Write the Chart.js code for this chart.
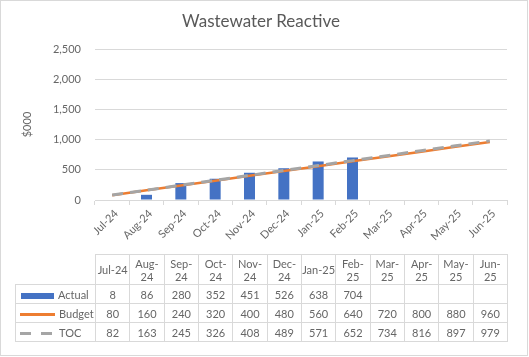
<!DOCTYPE html>
<html>
<head>
<meta charset="utf-8">
<script src="https://cdn.jsdelivr.net/npm/chart.js@4"></script>
<style>
  html, body { margin: 0; padding: 0; background: #fff; }
  #wrap { position: relative; width: 529px; height: 357px; overflow: hidden; }
  #frame { position: absolute; left: 0; top: 0; width: 528px; height: 356px; box-sizing: border-box; border: 1px solid #d9d9d9; pointer-events: none; }
  canvas { position: absolute; left: 0; top: 0; }
  #title { position: absolute; left: 0; width: 522px; top: 11px; text-align: center;
           font-family: Lato, "Open Sans", sans-serif; font-size: 17px; color: #595959; line-height: 20px; }
  #tbl { position: absolute; left: 15px; top: 254px; border-collapse: collapse; table-layout: fixed;
         font-family: Lato, "Open Sans", sans-serif; font-size: 11px; color: #666; }
  #tbl td { border: 1px solid #d9d9d9; padding: 0; text-align: center; height: 18px; line-height: 13px; white-space: nowrap; }
  #tbl tr.hdr td { height: 29px; white-space: normal; }
  #tbl td.corner { border-top: none; border-left: none; }
  #tbl td.lab { text-align: left; }
  .sym { display: inline-block; vertical-align: middle; margin: 0 4px 0 4px; }
</style>
</head>
<body>
<div id="wrap">
  <canvas id="c" width="529" height="357"></canvas>
  <div id="title">Wastewater Reactive</div>
  <table id="tbl"></table>
  <div id="frame"></div>
</div>
<script>
const categories = ['Jul-24','Aug-24','Sep-24','Oct-24','Nov-24','Dec-24','Jan-25','Feb-25','Mar-25','Apr-25','May-25','Jun-25'];
const actual = [8, 86, 280, 352, 451, 526, 638, 704];
const budget = [80, 160, 240, 320, 400, 480, 560, 640, 720, 800, 880, 960];
const toc = [82, 163, 245, 326, 408, 489, 571, 652, 734, 816, 897, 979];
const wrappedHeaders = ['Aug-24','Sep-24','Nov-24','Dec-24','Feb-25','Mar-25','May-25'];

const FONT = 'Lato, "Open Sans", sans-serif';
const GREY = '#666666';
const GRID = '#d9d9d9';

const chart = new Chart(document.getElementById('c'), {
  type: 'bar',
  data: {
    labels: categories,
    datasets: [
      { type: 'line', label: 'TOC', data: toc, borderColor: '#A5A5A5', borderWidth: 3, borderDash: [11, 7],
        pointRadius: 0, tension: 0, fill: false, order: 0, borderCapStyle: 'butt' },
      { type: 'line', label: 'Budget', data: budget, borderColor: '#ED7D31', borderWidth: 2.5,
        pointRadius: 0, tension: 0, fill: false, order: 1 },
      { type: 'bar', label: 'Actual', data: actual, backgroundColor: '#4472C4', borderWidth: 0,
        barPercentage: 0.32, categoryPercentage: 1, order: 2 }
    ]
  },
  options: {
    responsive: false,
    animation: false,
    layout: { padding: { left: 0, right: 22, top: 49, bottom: 107 } },
    plugins: {
      legend: { display: false },
      tooltip: { enabled: false },
      title: { display: false }
    },
    scales: {
      x: {
        offset: true,
        grid: { display: true, drawOnChartArea: false, drawTicks: true, tickLength: 5, color: GRID, offset: true },
        border: { display: true, color: GRID },
        ticks: { color: GREY, font: { family: FONT, size: 11 }, minRotation: 45, maxRotation: 45, padding: 2, labelOffset: 4, autoSkip: false },
        afterFit: (s) => { s.height = 50; }
      },
      y: {
        min: 0, max: 2500,
        grid: { color: GRID, drawTicks: false },
        border: { display: false },
        ticks: { stepSize: 500, color: GREY, font: { family: FONT, size: 11 }, padding: 14 },
        title: { display: true, text: '$000', color: GREY, font: { family: FONT, size: 11 }, padding: { top: 21 } },
        afterFit: (s) => { s.width = 95; }
      }
    }
  }
});

// Build the data table aligned to the chart's category scale
function buildTable() {
  const xs = chart.scales.x;
  const colW = (xs.right - xs.left) / categories.length;
  const firstW = xs.left - 15;
  const tbl = document.getElementById('tbl');
  let html = '<colgroup><col style="width:' + firstW + 'px">';
  categories.forEach(() => { html += '<col style="width:' + colW + 'px">'; });
  html += '</colgroup>';
  html += '<tr class="hdr"><td class="corner"></td>';
  categories.forEach(c => {
    const txt = wrappedHeaders.includes(c) ? c.replace('-', '-<br>') : c;
    html += '<td>' + txt + '</td>';
  });
  html += '</tr>';
  const rows = [
    { name: 'Actual', vals: actual, sym: '<span class="sym" style="width:33px;height:6px;background:#4472C4;margin-left:5px"></span>' },
    { name: 'Budget', vals: budget, sym: '<span class="sym" style="width:35px;height:3px;background:#ED7D31"></span>' },
    { name: 'TOC', vals: toc, sym: '<span class="sym" style="width:32px;height:3px;background:linear-gradient(to right,#A5A5A5 0 11px,transparent 11px 21px,#A5A5A5 21px 32px);margin-right:7px"></span>' }
  ];
  rows.forEach(r => {
    html += '<tr><td class="lab">' + r.sym + r.name + '</td>';
    categories.forEach((c, i) => {
      const v = r.vals[i];
      html += '<td>' + (v === undefined || v === null ? '' : v) + '</td>';
    });
    html += '</tr>';
  });
  tbl.innerHTML = html;
  tbl.style.width = (firstW + colW * categories.length) + 'px';
}
buildTable();
</script>
</body>
</html>
